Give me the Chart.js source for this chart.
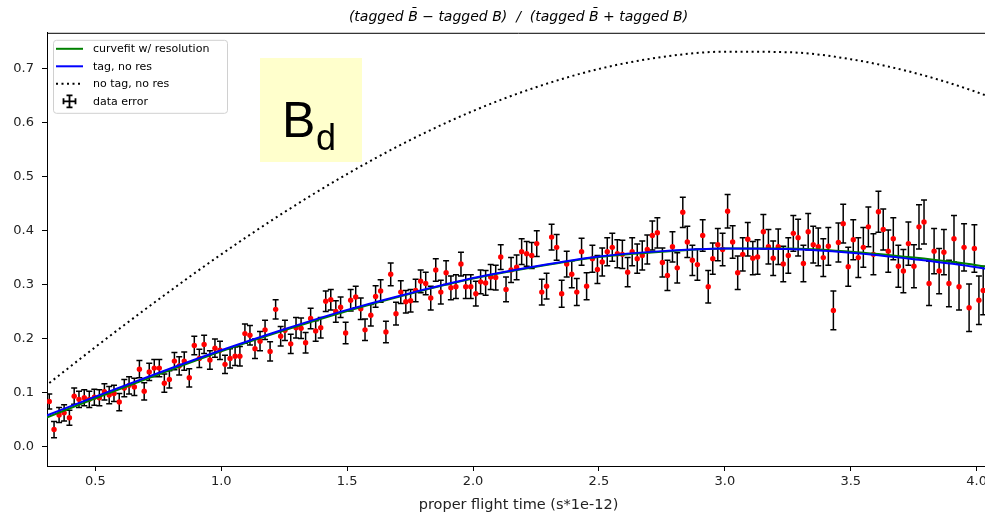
<!DOCTYPE html>
<html>
<head>
<meta charset="utf-8">
<script src="https://cdn.jsdelivr.net/npm/chart.js@4.4.1/dist/chart.umd.min.js"></script>
<style>
  html, body { margin: 0; padding: 0; background: #fff; overflow: hidden; }
  /* the axes run a few pixels past the right edge of the picture */
  #wrap { position: relative; width: 985px; height: 516px; overflow: hidden; }
  #chart { display: block; }
</style>
</head>
<body>
<div id="wrap"><canvas id="chart" width="990" height="516"></canvas></div>
<script>
// measured asymmetry per flight-time bin
const FLIGHT_TIME = [
  0.317, 0.336, 0.356, 0.376, 0.397, 0.416, 0.435, 0.456, 0.476, 0.496,
  0.516, 0.536, 0.555, 0.574, 0.595, 0.615, 0.634, 0.655, 0.675, 0.694,
  0.714, 0.734, 0.754, 0.774, 0.794, 0.814, 0.833, 0.853, 0.873, 0.893,
  0.913, 0.932, 0.955, 0.975, 0.995, 1.015, 1.035, 1.055, 1.074, 1.094,
  1.114, 1.134, 1.154, 1.174, 1.194, 1.216, 1.236, 1.253, 1.276, 1.297,
  1.317, 1.335, 1.355, 1.375, 1.395, 1.415, 1.435, 1.455, 1.474, 1.494,
  1.514, 1.534, 1.554, 1.571, 1.594, 1.613, 1.633, 1.654, 1.673, 1.694,
  1.713, 1.733, 1.752, 1.772, 1.792, 1.812, 1.832, 1.852, 1.872, 1.893,
  1.912, 1.932, 1.952, 1.971, 1.991, 2.011, 2.030, 2.050, 2.070, 2.090,
  2.110, 2.131, 2.151, 2.173, 2.193, 2.213, 2.233, 2.253, 2.273, 2.292,
  2.312, 2.332, 2.352, 2.372, 2.392, 2.412, 2.431, 2.451, 2.474, 2.494,
  2.513, 2.533, 2.553, 2.573, 2.593, 2.614, 2.632, 2.652, 2.672, 2.692,
  2.712, 2.732, 2.752, 2.772, 2.792, 2.811, 2.833, 2.851, 2.871, 2.891,
  2.912, 2.934, 2.952, 2.972, 2.991, 3.011, 3.031, 3.051, 3.071, 3.091,
  3.111, 3.130, 3.153, 3.173, 3.192, 3.212, 3.232, 3.252, 3.272, 3.291,
  3.312, 3.331, 3.351, 3.371, 3.391, 3.411, 3.431, 3.451, 3.470, 3.490,
  3.510, 3.530, 3.550, 3.570, 3.590, 3.610, 3.629, 3.649, 3.669, 3.689,
  3.709, 3.729, 3.751, 3.771, 3.791, 3.811, 3.831, 3.851, 3.870, 3.890,
  3.910, 3.930, 3.950, 3.970, 3.991, 4.009, 4.026
];
const ASYMMETRY = [
  0.083, 0.031, 0.058, 0.062, 0.053, 0.093, 0.087, 0.090, 0.087, 0.091,
  0.090, 0.101, 0.095, 0.098, 0.082, 0.108, 0.113, 0.110, 0.143, 0.102,
  0.138, 0.145, 0.145, 0.117, 0.124, 0.158, 0.149, 0.158, 0.127, 0.187,
  0.163, 0.189, 0.160, 0.182, 0.178, 0.152, 0.163, 0.167, 0.167, 0.209,
  0.206, 0.181, 0.195, 0.216, 0.176, 0.254, 0.204, 0.215, 0.190, 0.220,
  0.219, 0.192, 0.237, 0.214, 0.220, 0.269, 0.272, 0.250, 0.258, 0.210,
  0.271, 0.277, 0.255, 0.216, 0.243, 0.278, 0.288, 0.212, 0.319, 0.246,
  0.286, 0.268, 0.270, 0.289, 0.306, 0.302, 0.275, 0.327, 0.286, 0.322,
  0.294, 0.296, 0.338, 0.296, 0.296, 0.283, 0.305, 0.303, 0.314, 0.313,
  0.351, 0.291, 0.327, 0.332, 0.361, 0.357, 0.354, 0.376, 0.286, 0.297,
  0.388, 0.369, 0.283, 0.338, 0.319, 0.286, 0.361, 0.297, 0.348, 0.328,
  0.342, 0.361, 0.369, 0.357, 0.356, 0.323, 0.361, 0.348, 0.354, 0.365,
  0.391, 0.396, 0.341, 0.317, 0.370, 0.331, 0.434, 0.379, 0.345, 0.337,
  0.391, 0.296, 0.348, 0.374, 0.365, 0.436, 0.379, 0.322, 0.356, 0.384,
  0.349, 0.351, 0.398, 0.370, 0.349, 0.370, 0.338, 0.354, 0.395, 0.387,
  0.339, 0.398, 0.374, 0.370, 0.350, 0.371, 0.252, 0.378, 0.413, 0.333,
  0.383, 0.350, 0.369, 0.407, 0.356, 0.435, 0.402, 0.362, 0.385, 0.334,
  0.325, 0.376, 0.334, 0.407, 0.416, 0.302, 0.362, 0.325, 0.360, 0.302,
  0.385, 0.296, 0.369, 0.257, 0.367, 0.271, 0.289
];
const ASYM_ERR = [
  0.014, 0.015, 0.014, 0.015, 0.014, 0.015, 0.015, 0.015, 0.015, 0.015,
  0.015, 0.015, 0.016, 0.015, 0.016, 0.016, 0.016, 0.016, 0.016, 0.016,
  0.016, 0.016, 0.016, 0.017, 0.016, 0.016, 0.017, 0.017, 0.017, 0.017,
  0.017, 0.017, 0.017, 0.017, 0.017, 0.017, 0.018, 0.017, 0.018, 0.018,
  0.018, 0.018, 0.018, 0.018, 0.018, 0.018, 0.018, 0.019, 0.018, 0.019,
  0.019, 0.019, 0.019, 0.019, 0.019, 0.019, 0.019, 0.020, 0.019, 0.020,
  0.020, 0.020, 0.020, 0.020, 0.020, 0.020, 0.021, 0.020, 0.021, 0.021,
  0.021, 0.021, 0.021, 0.021, 0.021, 0.021, 0.022, 0.021, 0.022, 0.022,
  0.022, 0.022, 0.022, 0.022, 0.022, 0.023, 0.022, 0.023, 0.023, 0.023,
  0.023, 0.023, 0.023, 0.023, 0.024, 0.023, 0.024, 0.024, 0.024, 0.024,
  0.024, 0.024, 0.025, 0.024, 0.025, 0.025, 0.025, 0.025, 0.025, 0.026,
  0.026, 0.026, 0.026, 0.026, 0.026, 0.027, 0.026, 0.027, 0.027, 0.027,
  0.027, 0.028, 0.027, 0.028, 0.028, 0.028, 0.028, 0.029, 0.028, 0.029,
  0.029, 0.030, 0.029, 0.030, 0.030, 0.031, 0.030, 0.031, 0.031, 0.031,
  0.031, 0.032, 0.032, 0.032, 0.032, 0.033, 0.033, 0.033, 0.033, 0.034,
  0.034, 0.034, 0.034, 0.035, 0.035, 0.035, 0.036, 0.036, 0.036, 0.036,
  0.037, 0.037, 0.037, 0.037, 0.038, 0.038, 0.038, 0.039, 0.039, 0.039,
  0.040, 0.040, 0.040, 0.041, 0.041, 0.041, 0.042, 0.042, 0.042, 0.043,
  0.043, 0.043, 0.044, 0.044, 0.044, 0.045, 0.045
];

// model curves
const CURVE_T    = [0.30, 0.50, 0.75, 1.00, 1.25, 1.50, 1.75, 2.00, 2.25, 2.50, 2.75, 3.00, 3.25, 3.50, 3.75, 4.00, 4.25];
const CURVEFIT   = [0.052, 0.089, 0.133, 0.176, 0.215, 0.251, 0.283, 0.311, 0.333, 0.351, 0.361, 0.367, 0.367, 0.361, 0.350, 0.336, 0.316];
const TAG_NO_RES = [0.056, 0.092, 0.136, 0.178, 0.217, 0.253, 0.284, 0.312, 0.334, 0.352, 0.362, 0.367, 0.366, 0.359, 0.347, 0.332, 0.310];
const NO_TAG     = [0.111, 0.184, 0.272, 0.356, 0.434, 0.505, 0.568, 0.622, 0.666, 0.700, 0.722, 0.732, 0.731, 0.718, 0.693, 0.657, 0.611];

const X_TICKS = [0.5, 1.0, 1.5, 2.0, 2.5, 3.0, 3.5, 4.0];
const Y_TICKS = [0.0, 0.1, 0.2, 0.3, 0.4, 0.5, 0.6, 0.7];

const LEGEND_LABELS = ['curvefit w/ resolution', 'tag, no res', 'no tag, no res', 'data error'];
const TITLE = '(tagged B\u0304 \u2212 tagged B)  /  (tagged B\u0304 + tagged B)';

const FONT = 'DejaVu Sans';

function pairs(xs, ys) {
  return xs.map((x, i) => ({ x: x, y: ys[i] }));
}

// vertical error bars with caps, drawn under the datasets
const errorBars = {
  id: 'errorBars',
  beforeDatasetsDraw(chart) {
    const { ctx, scales: { x, y }, chartArea } = chart;
    ctx.save();
    ctx.beginPath();
    ctx.rect(chartArea.left, chartArea.top, chartArea.right - chartArea.left, chartArea.bottom - chartArea.top);
    ctx.clip();
    ctx.strokeStyle = '#000';
    ctx.lineWidth = 1.5;
    ctx.beginPath();
    FLIGHT_TIME.forEach((t, i) => {
      const px = x.getPixelForValue(t);
      const top = y.getPixelForValue(ASYMMETRY[i] + ASYM_ERR[i]);
      const bot = y.getPixelForValue(ASYMMETRY[i] - ASYM_ERR[i]);
      ctx.moveTo(px, top); ctx.lineTo(px, bot);
      ctx.moveTo(px - 3, top); ctx.lineTo(px + 3, top);
      ctx.moveTo(px - 3, bot); ctx.lineTo(px + 3, bot);
    });
    ctx.stroke();
    ctx.restore();
  }
};

// top spine, legend box and the B_d label
const decorations = {
  id: 'decorations',
  afterDraw(chart) {
    const { ctx, chartArea } = chart;
    ctx.save();

    ctx.strokeStyle = '#000';
    ctx.lineWidth = 1;
    ctx.beginPath();
    ctx.moveTo(chartArea.left, chartArea.top + 0.5);
    ctx.lineTo(chartArea.right, chartArea.top + 0.5);
    ctx.stroke();

    // label box
    ctx.fillStyle = '#ffffcc';
    ctx.fillRect(260, 58, 102, 104);
    ctx.fillStyle = '#000';
    ctx.textBaseline = 'alphabetic';
    ctx.font = '50px "Liberation Sans"';
    ctx.fillText('B', 282, 137);
    ctx.font = '36px "Liberation Sans"';
    ctx.fillText('d', 316, 150);

    // legend
    const lx = chartArea.left + 6, ly = chartArea.top + 7;
    ctx.beginPath();
    ctx.roundRect(lx + 0.5, ly + 0.5, 174, 73, 3);
    ctx.fillStyle = 'rgba(255,255,255,0.8)';
    ctx.fill();
    ctx.strokeStyle = '#d0d0d0';
    ctx.stroke();

    const rowY = [ly + 9, ly + 26.5, ly + 44, ly + 61.5];
    const hx0 = lx + 3, hx1 = lx + 30;
    ctx.lineWidth = 2;
    ctx.strokeStyle = '#008000';
    ctx.beginPath(); ctx.moveTo(hx0, rowY[0]); ctx.lineTo(hx1, rowY[0]); ctx.stroke();
    ctx.strokeStyle = '#0000ff';
    ctx.beginPath(); ctx.moveTo(hx0, rowY[1]); ctx.lineTo(hx1, rowY[1]); ctx.stroke();
    ctx.strokeStyle = '#000';
    ctx.setLineDash([2, 3.5]);
    ctx.beginPath(); ctx.moveTo(hx0, rowY[2]); ctx.lineTo(hx1, rowY[2]); ctx.stroke();
    ctx.setLineDash([]);
    const cx = (hx0 + hx1) / 2, cy = rowY[3];
    ctx.lineWidth = 1.8;
    ctx.beginPath();
    ctx.moveTo(cx, cy - 6); ctx.lineTo(cx, cy + 6);
    ctx.moveTo(cx - 3, cy - 6); ctx.lineTo(cx + 3, cy - 6);
    ctx.moveTo(cx - 3, cy + 6); ctx.lineTo(cx + 3, cy + 6);
    ctx.moveTo(cx - 6, cy); ctx.lineTo(cx + 6, cy);
    ctx.moveTo(cx - 6, cy - 3); ctx.lineTo(cx - 6, cy + 3);
    ctx.moveTo(cx + 6, cy - 3); ctx.lineTo(cx + 6, cy + 3);
    ctx.stroke();

    ctx.fillStyle = '#000';
    ctx.font = '11px "' + FONT + '"';
    ctx.textBaseline = 'middle';
    LEGEND_LABELS.forEach((label, i) => ctx.fillText(label, lx + 40, rowY[i] + 0.5));

    ctx.restore();
  }
};

new Chart(document.getElementById('chart'), {
  data: {
    datasets: [
      {
        type: 'line',
        label: LEGEND_LABELS[1],
        data: pairs(CURVE_T, TAG_NO_RES),
        borderColor: '#0000ff',
        borderWidth: 2,
        pointRadius: 0,
        cubicInterpolationMode: 'monotone',
        order: 0
      },
      {
        type: 'line',
        label: LEGEND_LABELS[0],
        data: pairs(CURVE_T, CURVEFIT),
        borderColor: '#008000',
        borderWidth: 2,
        pointRadius: 0,
        cubicInterpolationMode: 'monotone',
        order: 1
      },
      {
        type: 'line',
        label: LEGEND_LABELS[2],
        data: pairs(CURVE_T, NO_TAG),
        borderColor: '#000',
        borderWidth: 2,
        borderDash: [2, 3.5],
        pointRadius: 0,
        cubicInterpolationMode: 'monotone',
        order: 2
      },
      {
        type: 'scatter',
        label: LEGEND_LABELS[3],
        data: pairs(FLIGHT_TIME, ASYMMETRY),
        backgroundColor: '#ff0000',
        borderWidth: 0,
        pointRadius: 2.7,
        order: 3
      }
    ]
  },
  options: {
    responsive: false,
    animation: false,
    layout: { padding: 0, autoPadding: false },
    plugins: {
      legend: { display: false },
      tooltip: { enabled: false },
      title: {
        display: true,
        text: TITLE,
        fullSize: false,
        color: '#000',
        font: { family: FONT, size: 14, style: 'italic', weight: 'normal' },
        padding: { top: 9, bottom: 7 }
      }
    },
    scales: {
      x: {
        type: 'linear',
        min: 0.308,
        max: 4.053,
        afterFit: s => { s.height = 50; },
        afterBuildTicks: s => { s.ticks = X_TICKS.map(v => ({ value: v })); },
        ticks: {
          color: '#222',
          padding: 3,
          maxRotation: 0,
          font: { family: FONT, size: 13 },
          callback: v => v.toFixed(1)
        },
        grid: { drawOnChartArea: false, tickLength: 5, color: '#000' },
        border: { color: '#000' },
        title: {
          display: true,
          text: 'proper flight time (s*1e-12)',
          color: '#222',
          font: { family: FONT, size: 14.5 },
          padding: { top: 2, bottom: 2 }
        }
      },
      y: {
        min: -0.0366,
        max: 0.767,
        afterFit: s => { s.width = 47; },
        afterBuildTicks: s => { s.ticks = Y_TICKS.map(v => ({ value: v })); },
        ticks: {
          color: '#222',
          padding: 8,
          font: { family: FONT, size: 13 },
          callback: v => v.toFixed(1)
        },
        grid: { drawOnChartArea: false, tickLength: 5, color: '#000' },
        border: { color: '#000' }
      }
    }
  },
  plugins: [errorBars, decorations]
});
</script>
</body>
</html>
